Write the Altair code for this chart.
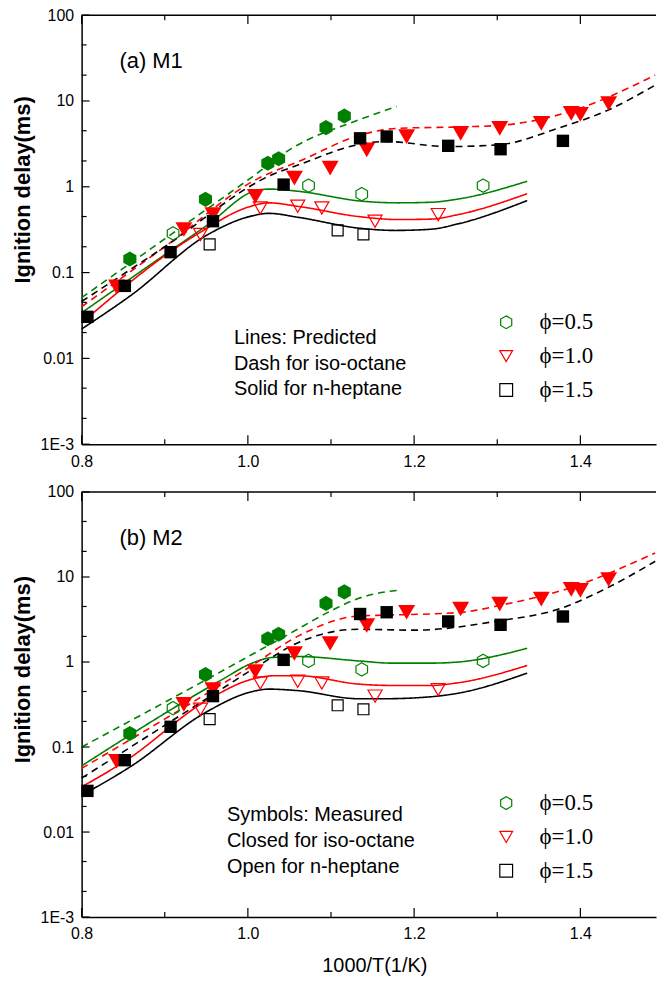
import altair as alt
import pandas as pd

# ---------------- measured ignition delays (ms) vs 1000/T ----------------
# closed symbols: iso-octane, open symbols: n-heptane
IC8_05_X = [0.858, 0.949, 1.024, 1.037, 1.094, 1.116]
IC8_05_Y = [0.144, 0.714, 1.88, 2.12, 4.89, 6.68]
NC7_05_X = [0.910, 1.073, 1.137, 1.283]
NC7_05_Y = [0.286, 1.03, 0.82, 1.03]
IC8_10_X = [0.842, 0.923, 0.958, 1.009, 1.056, 1.099, 1.143, 1.191, 1.256, 1.303, 1.353, 1.389, 1.400, 1.434]
IC8_10_Y = [0.068, 0.318, 0.474, 0.774, 1.26, 1.65, 2.69, 3.85, 4.2, 4.8, 5.48, 7.16, 6.97, 9.35]
NC7_10_X = [0.943, 1.015, 1.060, 1.089, 1.153, 1.229]
NC7_10_Y = [0.278, 0.566, 0.593, 0.566, 0.397, 0.474]
IC8_15_X = [0.807, 0.852, 0.907, 0.958, 1.043, 1.135, 1.167, 1.241, 1.304, 1.379]
IC8_15_Y = [0.0305, 0.070, 0.173, 0.397, 1.06, 3.67, 3.85, 3.0, 2.74, 3.43]
NC7_15_X = [0.954, 1.108, 1.139]
NC7_15_Y = [0.213, 0.31, 0.278]

# ---------------- predicted curves, mechanism M1 ----------------
M1_IC8_05_X = [0.80, 0.90, 1.00, 1.053, 1.133, 1.179]
M1_IC8_05_Y = [0.051, 0.247, 1.2, 2.81, 6.0, 8.6]
M1_NC7_05_X = [0.80, 0.95, 1.013, 1.027, 1.061, 1.137, 1.181, 1.22, 1.253, 1.336]
M1_NC7_05_Y = [0.034, 0.35, 0.92, 0.94, 0.885, 0.68, 0.65, 0.66, 0.72, 1.16]
M1_IC8_10_X = [0.80, 0.90, 1.013, 1.061, 1.137, 1.181, 1.261, 1.309, 1.381, 1.49]
M1_IC8_10_Y = [0.040, 0.20, 1.26, 1.97, 4.05, 4.8, 5.0, 5.25, 7.2, 20.0]
M1_NC7_10_X = [0.80, 0.939, 1.003, 1.025, 1.061, 1.133, 1.181, 1.22, 1.253, 1.336]
M1_NC7_10_Y = [0.026, 0.28, 0.59, 0.65, 0.59, 0.45, 0.415, 0.42, 0.474, 0.83]
M1_IC8_15_X = [0.80, 0.90, 1.029, 1.061, 1.133, 1.165, 1.241, 1.301, 1.373, 1.433, 1.49]
M1_IC8_15_Y = [0.046, 0.20, 1.38, 1.8, 3.1, 3.37, 2.94, 3.08, 4.8, 7.8, 15.3]
M1_NC7_15_X = [0.80, 0.859, 0.952, 1.002, 1.025, 1.061, 1.133, 1.177, 1.22, 1.253, 1.336]
M1_NC7_15_Y = [0.022, 0.054, 0.278, 0.45, 0.49, 0.44, 0.33, 0.31, 0.32, 0.37, 0.69]

# ---------------- predicted curves, mechanism M2 ----------------
M2_IC8_05_X = [0.80, 0.95, 1.05, 1.10, 1.133, 1.155, 1.179]
M2_IC8_05_Y = [0.10, 0.62, 2.15, 4.0, 5.6, 6.4, 6.95]
M2_NC7_05_X = [0.80, 0.97, 1.003, 1.029, 1.061, 1.133, 1.173, 1.22, 1.253, 1.336]
M2_NC7_05_Y = [0.060, 0.63, 0.95, 1.13, 1.16, 1.03, 0.97, 0.97, 1.0, 1.45]
M2_IC8_10_X = [0.80, 1.005, 1.061, 1.133, 1.161, 1.253, 1.309, 1.381, 1.49]
M2_IC8_10_Y = [0.056, 0.91, 2.03, 3.48, 3.55, 3.81, 4.77, 7.1, 19.2]
M2_NC7_10_X = [0.80, 0.852, 0.954, 1.003, 1.033, 1.061, 1.133, 1.173, 1.22, 1.253, 1.336]
M2_NC7_10_Y = [0.034, 0.068, 0.37, 0.62, 0.69, 0.69, 0.55, 0.53, 0.53, 0.57, 0.91]
M2_IC8_15_X = [0.80, 0.954, 1.013, 1.061, 1.133, 1.201, 1.301, 1.373, 1.433, 1.49]
M2_IC8_15_Y = [0.043, 0.39, 0.91, 1.7, 2.43, 2.37, 3.04, 4.17, 7.5, 15.3]
M2_NC7_15_X = [0.80, 0.859, 0.950, 1.002, 1.025, 1.061, 1.133, 1.165, 1.22, 1.253, 1.336]
M2_NC7_15_Y = [0.027, 0.059, 0.258, 0.44, 0.48, 0.46, 0.37, 0.37, 0.39, 0.43, 0.74]

# ---------------- axis ticks ----------------
X_MAJOR = [0.8, 1.0, 1.2, 1.4]
X_MINOR = [0.9, 1.1, 1.3]
Y_MAJOR = [0.001, 0.01, 0.1, 1, 10, 100]
Y_MINOR = [d * m for d in Y_MAJOR[:-1] for m in (2, 4.5)]

PHI = ["ϕ=0.5", "ϕ=1.0", "ϕ=1.5"]
COLORS = ["#008000", "#ff0000", "#000000"]
HEX = "M0,-1L0.866,-0.5L0.866,0.5L0,1L-0.866,0.5L-0.866,-0.5Z"
SHAPES = [HEX, "triangle-down", "square"]
FUELS = ["iso-octane", "n-heptane"]

measured = {
    ("ϕ=0.5", "iso-octane"): (IC8_05_X, IC8_05_Y),
    ("ϕ=0.5", "n-heptane"): (NC7_05_X, NC7_05_Y),
    ("ϕ=1.0", "iso-octane"): (IC8_10_X, IC8_10_Y),
    ("ϕ=1.0", "n-heptane"): (NC7_10_X, NC7_10_Y),
    ("ϕ=1.5", "iso-octane"): (IC8_15_X, IC8_15_Y),
    ("ϕ=1.5", "n-heptane"): (NC7_15_X, NC7_15_Y),
}
predicted = {
    "M1": {
        ("ϕ=0.5", "iso-octane"): (M1_IC8_05_X, M1_IC8_05_Y),
        ("ϕ=0.5", "n-heptane"): (M1_NC7_05_X, M1_NC7_05_Y),
        ("ϕ=1.0", "iso-octane"): (M1_IC8_10_X, M1_IC8_10_Y),
        ("ϕ=1.0", "n-heptane"): (M1_NC7_10_X, M1_NC7_10_Y),
        ("ϕ=1.5", "iso-octane"): (M1_IC8_15_X, M1_IC8_15_Y),
        ("ϕ=1.5", "n-heptane"): (M1_NC7_15_X, M1_NC7_15_Y),
    },
    "M2": {
        ("ϕ=0.5", "iso-octane"): (M2_IC8_05_X, M2_IC8_05_Y),
        ("ϕ=0.5", "n-heptane"): (M2_NC7_05_X, M2_NC7_05_Y),
        ("ϕ=1.0", "iso-octane"): (M2_IC8_10_X, M2_IC8_10_Y),
        ("ϕ=1.0", "n-heptane"): (M2_NC7_10_X, M2_NC7_10_Y),
        ("ϕ=1.5", "iso-octane"): (M2_IC8_15_X, M2_IC8_15_Y),
        ("ϕ=1.5", "n-heptane"): (M2_NC7_15_X, M2_NC7_15_Y),
    },
}

# marker area per (phi, fuel)
SIZES = {
    ("ϕ=0.5", "iso-octane"): 230, ("ϕ=0.5", "n-heptane"): 180,
    ("ϕ=1.0", "iso-octane"): 290, ("ϕ=1.0", "n-heptane"): 200,
    ("ϕ=1.5", "iso-octane"): 155, ("ϕ=1.5", "n-heptane"): 121,
}

W = 577
SANS = "Liberation Sans"
SERIF = "Liberation Serif"

xscale = alt.Scale(domain=[0.8, 1.491], nice=False, zero=False)
yscale = alt.Scale(type="log", domain=[0.001, 100], nice=False)
color_scale = alt.Scale(domain=PHI, range=COLORS)
shape_scale = alt.Scale(domain=PHI, range=SHAPES)
dash_scale = alt.Scale(domain=FUELS, range=[[7, 5], [1, 0]])
one_row = pd.DataFrame({"k": [0]})


def panel(model, height, label, notes, note_x, note_y, leg_y, title_y, x_title):
    y_axis = alt.Axis(
        values=Y_MAJOR, ticks=False, grid=False, labelPadding=8, labelFlush=False,
        labelExpr="datum.value < 0.005 ? '1E-3' : format(datum.value, '~g')",
        title="Ignition delay(ms)", titleFontSize=22, titleFontWeight="bold",
        titleAngle=270, titleAlign="center", titleBaseline="middle",
        titleX=-59, titleY=title_y,
    )
    if x_title:
        x_axis = alt.Axis(
            values=X_MAJOR, format=".1f", ticks=False, grid=False, labelPadding=9,
            labelFlush=False, title=x_title, titleFontSize=20, titleFontWeight="normal",
            titleX=294, titleY=55, titleAlign="center", titleBaseline="alphabetic",
        )
    else:
        x_axis = alt.Axis(values=X_MAJOR, format=".1f", ticks=False, grid=False,
                          labelPadding=9, labelFlush=False, title=None)

    # every layer shares the same guide definitions so the merged axes stay on
    def X():
        return alt.X("x:Q", scale=xscale, axis=x_axis)

    def Y():
        return alt.Y("y:Q", scale=yscale, axis=y_axis)

    legend = alt.Legend(
        orient="none", legendX=415, legendY=leg_y, title=None,
        labelFont=SERIF, labelFontSize=23, labelColor="black", labelOffset=22,
        symbolSize=165, symbolStrokeWidth=1.2, symbolFillColor="transparent",
        rowPadding=10, padding=0,
    )

    # predicted curves: one layer per equivalence ratio, dash pattern by fuel
    line_layers = []
    for phi, col in zip(PHI, COLORS):
        rows = []
        for fuel in FUELS:
            xs, ys = predicted[model][(phi, fuel)]
            rows += [{"x": a, "y": b, "fuel": fuel} for a, b in zip(xs, ys)]
        line_layers.append(
            alt.Chart(pd.DataFrame(rows)).mark_line(
                strokeWidth=1.6, interpolate="monotone", color=col
            ).encode(
                x=X(), y=Y(),
                strokeDash=alt.StrokeDash("fuel:N", scale=dash_scale, legend=None),
            )
        )

    # measured points: open symbols (n-heptane) carry the phi legend,
    # closed symbols (iso-octane) are styled directly
    point_layers = []
    for phi in PHI:
        xs, ys = measured[(phi, "n-heptane")]
        point_layers.append(
            alt.Chart(pd.DataFrame({"x": xs, "y": ys, "phi": phi})).mark_point(
                filled=False, size=SIZES[(phi, "n-heptane")], strokeWidth=1.2, opacity=1
            ).encode(
                x=X(), y=Y(),
                color=alt.Color("phi:N", scale=color_scale, legend=legend),
                shape=alt.Shape("phi:N", scale=shape_scale, legend=legend),
            )
        )
    for phi, col, shp in zip(PHI, COLORS, SHAPES):
        xs, ys = measured[(phi, "iso-octane")]
        point_layers.append(
            alt.Chart(pd.DataFrame({"x": xs, "y": ys})).mark_point(
                filled=True, shape=shp, color=col, size=SIZES[(phi, "iso-octane")], opacity=1
            ).encode(x=X(), y=Y())
        )

    tick = dict(color="black", strokeWidth=1.2)
    ticks = [
        alt.Chart(pd.DataFrame({"y": Y_MAJOR})).mark_rule(**tick).encode(
            y=Y(), x=alt.value(0), x2=alt.value(8)),
        alt.Chart(pd.DataFrame({"y": Y_MINOR})).mark_rule(**tick).encode(
            y=Y(), x=alt.value(0), x2=alt.value(5)),
        alt.Chart(pd.DataFrame({"x": X_MAJOR})).mark_rule(**tick).encode(
            x=X(), y=alt.value(height), y2=alt.value(height - 9)),
        alt.Chart(pd.DataFrame({"x": X_MINOR})).mark_rule(**tick).encode(
            x=X(), y=alt.value(height), y2=alt.value(height - 5)),
        alt.Chart(pd.DataFrame({"x": X_MAJOR})).mark_rule(**tick).encode(
            x=X(), y=alt.value(0), y2=alt.value(9)),
        alt.Chart(pd.DataFrame({"x": X_MINOR})).mark_rule(**tick).encode(
            x=X(), y=alt.value(0), y2=alt.value(5)),
    ]
    top_border = alt.Chart(one_row).mark_rule(color="black", strokeWidth=1.5).encode(
        x=alt.value(0), x2=alt.value(W), y=alt.value(0))

    tag = alt.Chart(one_row).mark_text(
        text=label, align="left", baseline="alphabetic", font=SANS, fontSize=22, color="black"
    ).encode(x=alt.value(38), y=alt.value(53))
    note = alt.Chart(one_row).mark_text(
        text=notes, align="left", baseline="alphabetic", font=SANS, fontSize=20,
        lineHeight=26, color="black"
    ).encode(x=alt.value(note_x), y=alt.value(note_y))

    return alt.layer(*line_layers, *point_layers, *ticks, top_border, tag, note).properties(
        width=W, height=height
    )


top = panel("M1", 431, "(a) M1",
            ["Lines: Predicted", "Dash for iso-octane", "Solid for n-heptane"],
            153, 330, 297, 175, None)
bottom = panel("M2", 427, "(b) M2",
               ["Symbols: Measured", "Closed for iso-octane", "Open for n-heptane"],
               146, 331, 301, 178, "1000/T(1/K)")

chart = alt.vconcat(top, bottom, spacing=48, bounds="flush").resolve_scale(
    color="independent", shape="independent", strokeDash="independent"
).resolve_legend(
    color="independent", shape="independent"
).configure_view(
    stroke=None
).configure_axis(
    labelFont=SANS, labelFontSize=16, labelColor="black", titleFont=SANS, titleColor="black",
    domainColor="black", domainWidth=1.5,
).properties(
    padding={"left": 12, "top": 5, "right": 0, "bottom": 0}
)

chart.save("out.html", embed_options={"renderer": "svg", "actions": False})
